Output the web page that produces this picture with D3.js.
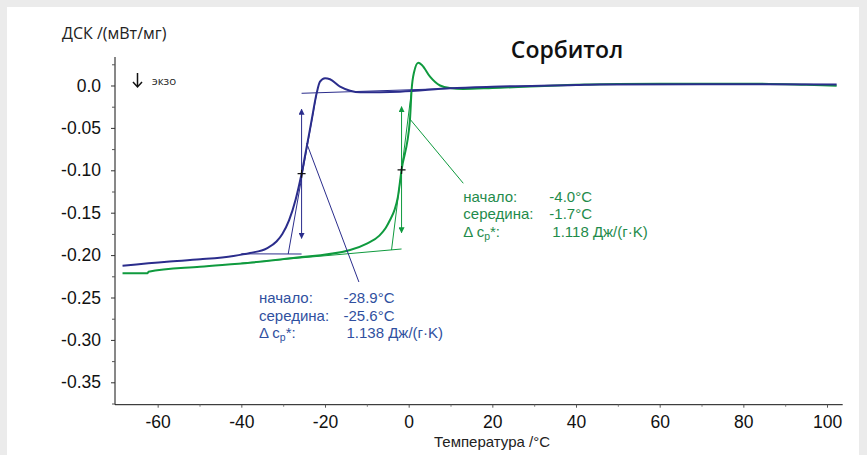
<!DOCTYPE html>
<html><head><meta charset="utf-8">
<script src="https://cdn.jsdelivr.net/npm/d3@7"></script>
<style>
html,body{margin:0;padding:0;background:#ebebeb;}
svg{display:block;}
</style></head>
<body>
<script>
// ---- data (temperature °C, DSC mW/mg) ----
const blueT = [-68.4,-57.8,-49.8,-41.9,-37.9,-33.9,-31.6,-30.2,-28.6,-27.0,-25.6,-24.4,-23.2,-22.0,-21.2,-20.0,-18.8,-16.4,-14.0,-11.6,-2.1,9.9,20,40,45.7,69.6,102.3];
const blueV = [-0.2125,-0.2078,-0.2050,-0.2010,-0.1975,-0.1920,-0.1840,-0.1750,-0.1590,-0.1340,-0.1040,-0.0730,-0.0410,-0.0092,0.0045,0.0085,0.0073,-0.0014,-0.0061,-0.0080,-0.0073,-0.0033,-0.0015,0.0005,0.0012,0.0016,0.0012];
const greenT = [-68.4,-62.4,-62.2,-49.9,-37.9,-28.4,-14.0,-10.0,-7.0,-5.5,-4.4,-3.4,-2.6,-1.7,0.3,0.7,1.3,2.3,3.2,5.1,7.5,9.9,13.0,20,40,60,80,95,102.3];
const greenV = [-0.2215,-0.2215,-0.2196,-0.2137,-0.2090,-0.2038,-0.1940,-0.1865,-0.1770,-0.1680,-0.1580,-0.1470,-0.1320,-0.0996,-0.0407,-0.0053,0.0160,0.0269,0.0240,0.0104,0.0000,-0.0030,-0.0040,-0.0030,0.0010,0.0022,0.0022,0.0008,-0.0002];

// evaluation overlays (temperature, value pairs)
const blueBaseLow = [[-40,-0.1985],[-25.6,-0.1987]];
const blueTangent = [[-28.8,-0.1987],[-22.0,-0.0092]];
const blueBaseHigh = [[-25.6,-0.0092],[10,-0.0035]];
const blueArrow = [[-25.6,-0.0280],[-25.6,-0.1802]];
const bluePointer = [[-24.4,-0.0678],[-11.9,-0.2317]];
const blueMid = [-25.6,-0.104];
const greenBaseLow = [[-40,-0.2095],[-1.7,-0.1928]];
const greenTangent = [[-4.1,-0.1940],[0.7,-0.0053]];
const greenArrow = [[-1.7,-0.0250],[-1.7,-0.1736]];
const greenPointer = [[0.15,-0.0387],[13.05,-0.1153]];
const greenMid = [-1.7,-0.0996];

const yTicks = [0,-0.05,-0.10,-0.15,-0.20,-0.25,-0.30,-0.35];
const yTickLabels = ["0.0","-0.05","-0.10","-0.15","-0.20","-0.25","-0.30","-0.35"];
const yMinor = [0.025,-0.025,-0.075,-0.125,-0.175,-0.225,-0.275,-0.325,-0.375];
const xTicks = [-60,-40,-20,0,20,40,60,80,100];
const xMinor = [-50,-30,-10,10,30,50,70,90];

const blueText = [["начало:","-28.9°C"],["середина:","-25.6°C"],["Δ c","1.138 Дж/(г·K)"]];
const greenText = [["начало:","-4.0°C"],["середина:","-1.7°C"],["Δ c","1.118 Дж/(г·K)"]];

// ---- drawing ----
const W = 867, H = 455;
const svg = d3.select("body").append("svg").attr("width",W).attr("height",H);
svg.append("rect").attr("x",7).attr("y",7).attr("width",852).attr("height",H).attr("fill","#fff");

const x = d3.scaleLinear().domain([-70.2,103.75]).range([115,842.7]);
const y = d3.scaleLinear().domain([-0.3764,0.0336]).range([404.7,57]);

const BLUE = "#2b2d8c", GREEN = "#0f9a3e";
const BLUE_T = "#3050a0", GREEN_T = "#1f8b4b";

const defs = svg.append("defs");
function marker(id,color){
  defs.append("marker").attr("id",id).attr("viewBox","0 0 10 10").attr("refX",9).attr("refY",5)
    .attr("markerWidth",6).attr("markerHeight",6).attr("orient","auto-start-reverse")
    .attr("markerUnits","userSpaceOnUse")
    .append("path").attr("d","M0,0 L10,5 L0,10 z").attr("fill",color);
}
marker("ab",BLUE); marker("ag",GREEN);

// axes
const yAxis = d3.axisLeft(y).tickValues(yTicks).tickSize(4).tickFormat((d,i)=>yTickLabels[i]);
const gy = svg.append("g").attr("transform","translate(115,0)").call(yAxis);
gy.select(".domain").attr("d","M0,57V404.7").attr("stroke","#111");
gy.selectAll(".tick line").attr("stroke","#333");
gy.selectAll(".tick text").attr("x",-14).attr("font-family","Liberation Sans, Arial, sans-serif").attr("font-size",17.5).attr("fill","#111");
svg.append("g").attr("transform","translate(115,0)").call(d3.axisLeft(y).tickValues(yMinor).tickSize(3).tickFormat(""))
  .call(g=>g.select(".domain").remove()).selectAll("line").attr("stroke","#555");

const xAxis = d3.axisBottom(x).tickValues(xTicks).tickSize(3).tickFormat(d=>String(d));
const gx = svg.append("g").attr("transform","translate(0,404.7)").call(xAxis);
gx.select(".domain").attr("d","M115,0H842.7").attr("stroke","#111");
gx.selectAll(".tick line").attr("stroke","#555");
gx.selectAll(".tick text").attr("y",11).attr("font-family","Liberation Sans, Arial, sans-serif").attr("font-size",17.5).attr("fill","#111");
svg.append("g").attr("transform","translate(0,404.7)").call(d3.axisBottom(x).tickValues(xMinor).tickSize(2).tickFormat(""))
  .call(g=>g.select(".domain").remove()).selectAll("line").attr("stroke","#777");

// labels
svg.append("text").attr("x",62).attr("y",39).text("ДСК /(мВт/мг)")
  .attr("font-family","Open Sans, sans-serif").attr("font-size",16).attr("fill","#222");
svg.append("text").attr("x",492).attr("y",447).attr("text-anchor","middle").text("Температура /°C")
  .attr("font-family","Liberation Sans, Arial, sans-serif").attr("font-size",15).attr("fill","#222");
svg.append("text").attr("x",567).attr("y",58).attr("text-anchor","middle").text("Сорбитол")
  .attr("font-family","Open Sans, sans-serif").attr("font-weight",600).attr("font-size",23).attr("fill","#111");
// exo arrow
svg.append("path").attr("d","M137.5,73V86.5M133,82L137.5,87L142,82").attr("fill","none").attr("stroke","#111").attr("stroke-width",1.5);
svg.append("text").attr("x",152).attr("y",85).text("экзо")
  .attr("font-family","Open Sans, sans-serif").attr("font-size",11.5).attr("fill","#222");

// data lines
const line = d3.line().x(d=>x(d[0])).y(d=>y(d[1])).curve(d3.curveMonotoneX);
const seg = d3.line().x(d=>x(d[0])).y(d=>y(d[1]));
function thin(pts,color,w){ return svg.append("path").attr("d",seg(pts)).attr("fill","none").attr("stroke",color).attr("stroke-width",w||1); }

thin(greenBaseLow,GREEN,1);
thin(blueBaseLow,BLUE,1);
svg.append("path").attr("d",line(d3.zip(greenT,greenV))).attr("fill","none").attr("stroke",GREEN).attr("stroke-width",2);
svg.append("path").attr("d",line(d3.zip(blueT,blueV))).attr("fill","none").attr("stroke",BLUE).attr("stroke-width",2);

thin(blueTangent,BLUE,1); thin(blueBaseHigh,BLUE,1); thin(bluePointer,BLUE,1);
thin(blueArrow,BLUE,1).attr("marker-start","url(#ab)").attr("marker-end","url(#ab)");
thin(greenTangent,GREEN,1); thin(greenPointer,GREEN,1);
thin(greenArrow,GREEN,1).attr("marker-start","url(#ag)").attr("marker-end","url(#ag)");

function plus(p){
  const cx=x(p[0]), cy=y(p[1]);
  svg.append("path").attr("d",`M${cx-4},${cy}H${cx+4}M${cx},${cy-4}V${cy+4}`).attr("stroke","#111").attr("stroke-width",1.2);
}
plus(blueMid); plus(greenMid);

// annotation text
const AF = "Liberation Sans, Arial, sans-serif", AS = 15;
function block(rows,x0,x1,yb,color){
  rows.forEach((r,i)=>{
    const t = svg.append("text").attr("x",x0).attr("y",yb+i*17.5).attr("fill",color)
      .attr("font-family",AF).attr("font-size",AS);
    if(i===2){ t.text(r[0]); t.append("tspan").attr("font-size",10.5).attr("dy",3).text("p"); t.append("tspan").attr("dy",-3).text("*:"); }
    else t.text(r[0]);
    svg.append("text").attr("x",i===2?x1+3:x1).attr("y",yb+i*17.5).attr("fill",color)
      .attr("font-family",AF).attr("font-size",AS).text(r[1]);
  });
}
block(blueText,259,343.5,303.3,BLUE_T);
block(greenText,463.3,549.3,201.7,GREEN_T);
</script>
</body></html>
